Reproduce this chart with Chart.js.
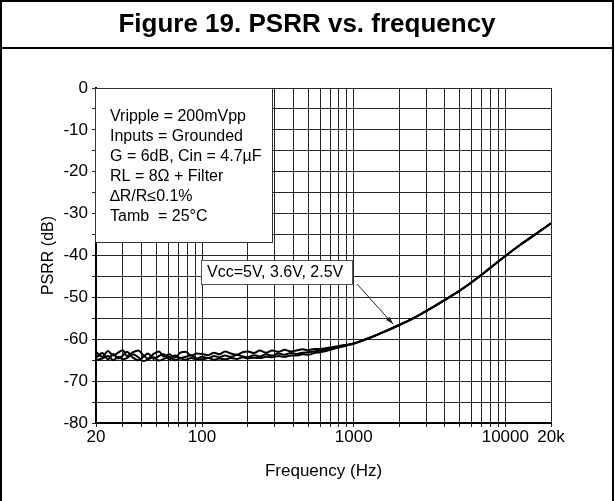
<!DOCTYPE html>
<html>
<head>
<meta charset="utf-8">
<script src="https://cdn.jsdelivr.net/npm/chart.js@4/dist/chart.umd.min.js"></script>
<style>
  html, body { margin: 0; padding: 0; background: #fff; }
  canvas { display: block; }
</style>
</head>
<body>
<canvas id="psrr" width="615" height="501"></canvas>
<script>
'use strict';

// frequency points (Hz)
const FREQ = [
  20, 22, 24, 26, 28, 30, 32, 35, 38, 41,
  44, 48, 52, 56, 61, 66, 72, 78, 85, 92,
  100, 110, 120, 130, 142, 155, 170, 185, 200, 220,
  240, 265, 290, 320, 350, 385, 420, 460, 500, 550,
  600, 660, 720, 800, 900, 1000, 1200, 1500, 2000, 2500,
  3000, 4000, 5000, 6000, 8000, 10000, 12500, 15000, 20000
];

// PSRR (dB), one curve per supply voltage
const PSRR_5V = [
  -63.0, -64.2, -62.8, -63.9, -63.2, -62.6, -64.0, -63.1, -62.7, -63.8,
  -64.6, -63.5, -62.9, -64.1, -63.6, -64.4, -63.2, -63.0, -63.9, -63.4,
  -63.5, -63.8, -63.2, -63.6, -62.9, -63.4, -63.7, -63.1, -62.9, -63.3,
  -62.7, -63.2, -62.7, -63.0, -62.5, -62.9, -62.7, -62.4, -62.6, -62.3,
  -62.3, -62.1, -61.9, -61.6, -61.3, -61.0, -60.0, -58.6, -56.6, -54.9,
  -53.3, -50.6, -48.4, -46.4, -42.9, -40.1, -37.5, -35.5, -32.3
];
const PSRR_36V = [
  -64.5, -63.3, -64.8, -63.5, -64.6, -63.9, -63.0, -64.4, -65.0, -64.2,
  -63.4, -64.7, -64.0, -63.6, -64.8, -63.9, -64.5, -64.2, -63.8, -64.6,
  -64.2, -64.5, -64.0, -64.3, -63.9, -64.2, -63.7, -64.1, -64.3, -63.8,
  -64.1, -63.6, -63.9, -63.4, -63.7, -63.3, -63.5, -63.2, -63.1, -62.9,
  -62.7, -62.4, -62.1, -61.8, -61.4, -61.0, -60.0, -58.6, -56.6, -54.9,
  -53.3, -50.6, -48.4, -46.4, -42.9, -40.1, -37.5, -35.5, -32.3
];
const PSRR_25V = [
  -65.0, -64.6, -64.0, -65.0, -64.2, -64.8, -64.5, -63.6, -64.3, -65.2,
  -64.8, -64.3, -65.1, -64.7, -64.2, -65.0, -64.6, -64.9, -64.5, -64.8,
  -64.8, -64.5, -64.9, -64.6, -64.8, -64.5, -64.7, -64.3, -64.6, -64.4,
  -64.5, -64.2, -64.3, -64.0, -64.2, -63.9, -63.9, -63.6, -63.7, -63.3,
  -63.1, -62.8, -62.4, -62.0, -61.5, -61.1, -60.1, -58.6, -56.6, -54.9,
  -53.3, -50.6, -48.4, -46.4, -42.9, -40.1, -37.5, -35.5, -32.3
];

// grid lines on the frequency axis, and the ones that get a label
const X_GRID = [
  20, 30, 40, 50, 60, 70, 80, 90,
  100, 200, 300, 400, 500, 600, 700, 800, 900,
  1000, 2000, 3000, 4000, 5000, 6000, 7000, 8000, 9000,
  10000, 20000
];
const X_LABELS = { 20: '20', 100: '100', 1000: '1000', 10000: '10000', 20000: '20k' };

// grid lines on the dB axis (labelled every 10)
const Y_GRID = [-80, -75, -70, -65, -60, -55, -50, -45, -40, -35, -30, -25, -20, -15, -10, -5, 0];

const TITLE = 'Figure 19. PSRR vs. frequency';
const CONDITIONS = [
  'Vripple = 200mVpp',
  'Inputs = Grounded',
  'G = 6dB, Cin = 4.7µF',
  'RL = 8Ω + Filter',
  '∆R/R≤0.1%',
  'Tamb  = 25°C'
];
const CURVE_LABEL = 'Vcc=5V, 3.6V, 2.5V';

const FONT = '"Liberation Sans", Arial, sans-serif';

function toXY(ys) {
  return FREQ.map((f, i) => ({ x: f, y: ys[i] }));
}

function curve(label, ys) {
  return {
    label,
    data: toXY(ys),
    borderColor: '#000',
    borderWidth: 2,
    pointRadius: 0,
    cubicInterpolationMode: 'monotone',
    fill: false,
  };
}

// frame, title band and the two text boxes
const decorations = {
  id: 'decorations',
  afterDraw(chart) {
    const ctx = chart.ctx;
    const area = chart.chartArea;
    ctx.save();

    // outer frame + title band
    ctx.strokeStyle = '#000';
    ctx.lineWidth = 2;
    ctx.beginPath();
    ctx.moveTo(1, 501); ctx.lineTo(1, 1); ctx.lineTo(613, 1); ctx.lineTo(613, 501);
    ctx.moveTo(1, 48); ctx.lineTo(613, 48);
    ctx.stroke();

    ctx.fillStyle = '#000';
    ctx.font = 'bold 26px ' + FONT;
    ctx.textAlign = 'center';
    ctx.textBaseline = 'middle';
    ctx.fillText(TITLE, 307, 25);

    // test conditions box
    const bx = area.left - 1, by = area.top, bw = 177, bh = 154;
    ctx.fillStyle = '#fff';
    ctx.fillRect(bx, by, bw, bh);
    ctx.strokeStyle = '#333';
    ctx.lineWidth = 1;
    ctx.strokeRect(bx + 0.5, by + 0.5, bw, bh);
    ctx.fillStyle = '#000';
    ctx.font = '16px ' + FONT;
    ctx.textAlign = 'left';
    CONDITIONS.forEach((t, i) => ctx.fillText(t, bx + 15, by + 29 + i * 20));

    // curve label + arrow
    const lx = 201, ly = 260, lw = 151, lh = 24;
    ctx.fillStyle = '#fff';
    ctx.fillRect(lx, ly, lw, lh);
    ctx.strokeStyle = '#555';
    ctx.strokeRect(lx + 0.5, ly + 0.5, lw, lh);
    ctx.fillStyle = '#000';
    ctx.fillText(CURVE_LABEL, lx + 6, ly + lh / 2 + 1);

    const x0 = 357, y0 = 284, x1 = 393, y1 = 324;
    ctx.strokeStyle = '#222';
    ctx.beginPath();
    ctx.moveTo(x0, y0); ctx.lineTo(x1, y1);
    ctx.stroke();
    const ang = Math.atan2(y1 - y0, x1 - x0);
    ctx.beginPath();
    ctx.moveTo(x1, y1);
    ctx.lineTo(x1 - 8 * Math.cos(ang - 0.3), y1 - 8 * Math.sin(ang - 0.3));
    ctx.lineTo(x1 - 8 * Math.cos(ang + 0.3), y1 - 8 * Math.sin(ang + 0.3));
    ctx.closePath();
    ctx.fillStyle = '#222';
    ctx.fill();

    ctx.restore();
  }
};

new Chart(document.getElementById('psrr'), {
  type: 'line',
  data: {
    datasets: [
      curve('5V', PSRR_5V),
      curve('3.6V', PSRR_36V),
      curve('2.5V', PSRR_25V),
    ],
  },
  options: {
    responsive: false,
    animation: false,
    layout: { padding: { left: 0, top: 88, right: 64, bottom: 0 } },
    plugins: {
      legend: { display: false },
      tooltip: { enabled: false },
    },
    scales: {
      x: {
        type: 'logarithmic',
        min: 20,
        max: 20000,
        afterBuildTicks(scale) {
          scale.ticks = X_GRID.map(v => ({ value: v }));
        },
        afterFit(scale) { scale.height = 78; },
        grid: { color: '#262626', lineWidth: 1, tickLength: 4 },
        border: { color: '#000', width: 2 },
        ticks: {
          autoSkip: false,
          maxRotation: 0,
          padding: 0,
          color: '#000',
          font: { family: FONT, size: 17 },
          callback: v => X_LABELS[v] || '',
        },
        title: {
          display: true,
          text: 'Frequency (Hz)',
          color: '#000',
          font: { family: FONT, size: 17 },
          padding: { top: 0, bottom: 19 },
        },
      },
      y: {
        min: -80,
        max: 0,
        afterBuildTicks(scale) {
          scale.ticks = Y_GRID.map(v => ({ value: v }));
        },
        afterFit(scale) { scale.width = 96; },
        grid: { color: '#262626', lineWidth: 1, tickLength: 4 },
        border: { color: '#000', width: 2 },
        ticks: {
          autoSkip: false,
          padding: 4,
          color: '#000',
          font: { family: FONT, size: 17 },
          callback: v => (v % 10 === 0 ? String(v) : ''),
        },
        title: {
          display: true,
          text: 'PSRR (dB)',
          color: '#000',
          font: { family: FONT, size: 16 },
          padding: { top: 39, bottom: 0 },
        },
      },
    },
  },
  plugins: [decorations],
});
</script>
</body>
</html>
